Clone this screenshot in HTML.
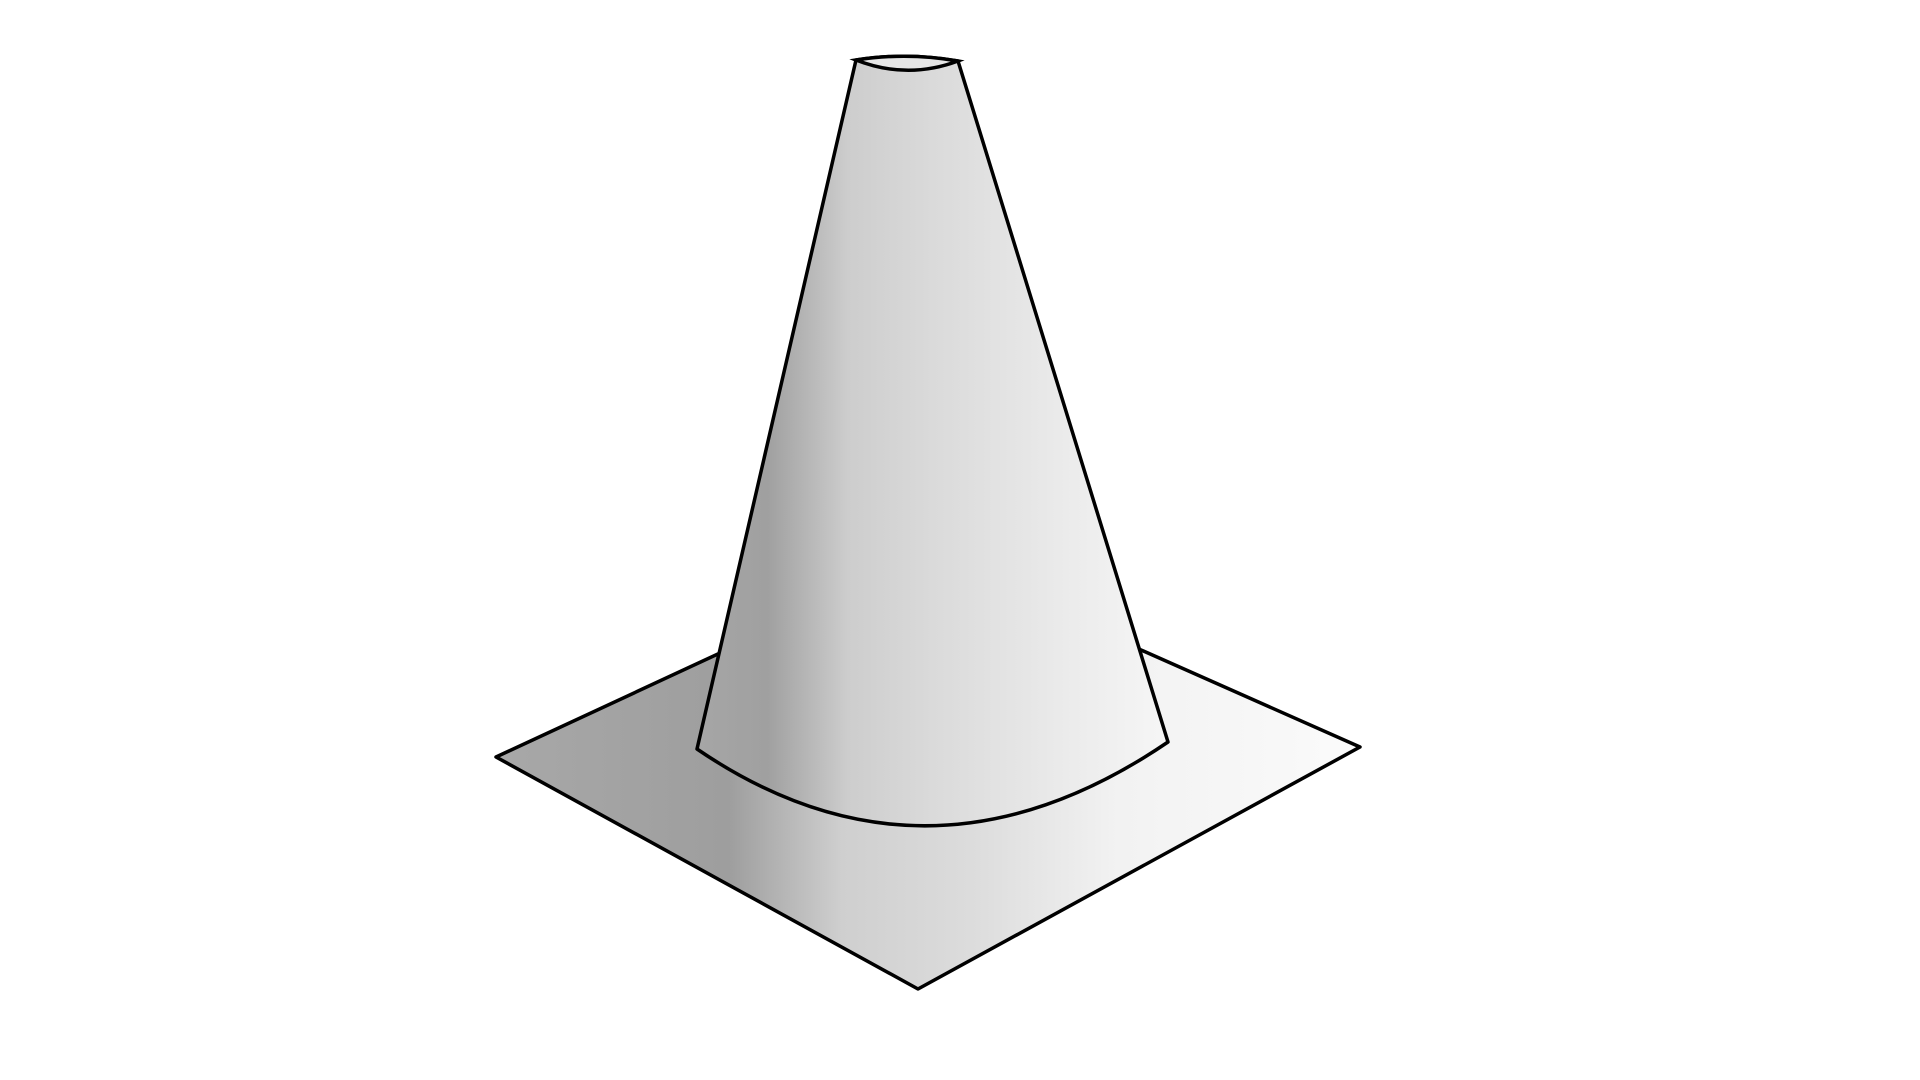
<!DOCTYPE html>
<html><head><meta charset="utf-8"><style>html,body{margin:0;padding:0;background:#fff;width:1920px;height:1080px;overflow:hidden}</style></head>
<body>
<svg width="1920" height="1080" viewBox="0 0 1920 1080" xmlns="http://www.w3.org/2000/svg">
<defs>
<linearGradient id="g" gradientUnits="userSpaceOnUse" x1="496" y1="0" x2="1360" y2="0">
<stop offset="0" stop-color="#a8a8a8"/>
<stop offset="0.27" stop-color="#9e9e9e"/>
<stop offset="0.4" stop-color="#cfcfcf"/>
<stop offset="0.55" stop-color="#dcdcdc"/>
<stop offset="0.72" stop-color="#f2f2f2"/>
<stop offset="1" stop-color="#fbfbfb"/>
</linearGradient>
<linearGradient id="gc" gradientUnits="userSpaceOnUse" x1="697" y1="0" x2="1168" y2="0">
<stop offset="0" stop-color="#a6a6a6"/>
<stop offset="0.15" stop-color="#a0a0a0"/>
<stop offset="0.32" stop-color="#cdcdcd"/>
<stop offset="0.5" stop-color="#dadada"/>
<stop offset="0.8" stop-color="#ececec"/>
<stop offset="1" stop-color="#f6f6f6"/>
</linearGradient>
</defs>
<polygon points="496,757 929,556 1360,747 918,989" fill="url(#g)" stroke="#000" stroke-width="3.5" stroke-linejoin="round"/>
<path d="M856,60 Q907,52 958,61 L1168,742 Q927,906 697,749 Z" fill="url(#gc)" stroke="#000" stroke-width="3.5" stroke-linejoin="round"/>
<path d="M856,60 Q907,52 958,61 Q907,80 856,60 Z" fill="#e6e6e6" stroke="#000" stroke-width="3.5"/>
</svg>
</body></html>
